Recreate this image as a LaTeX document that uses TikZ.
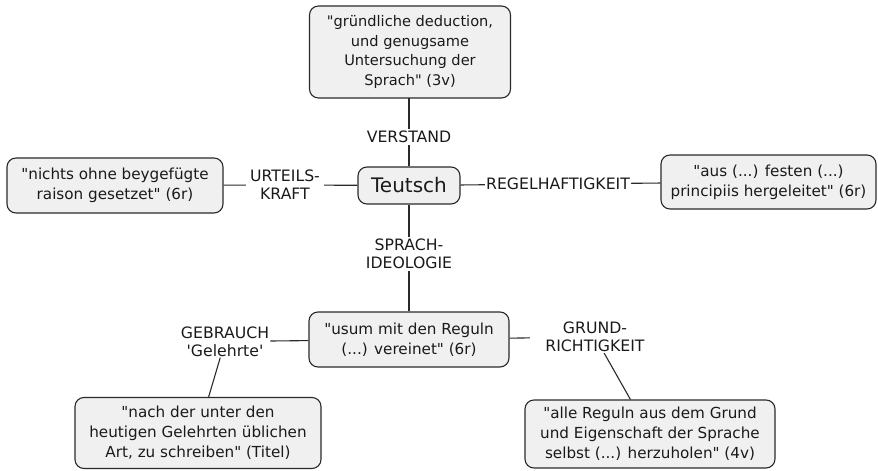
\documentclass[tikz,border=0pt]{standalone}
\usepackage{fontspec}
\newfontfamily\dvs{DejaVu Sans}
\definecolor{edgec}{HTML}{2A2A2A}
\definecolor{boxfill}{HTML}{F0F0F0}
\definecolor{txt}{HTML}{1A1A1A}
\begin{document}
\begin{tikzpicture}[x=1pt,y=-1pt,
  box/.style={draw=edgec, fill=boxfill, rounded corners=9pt, line width=1.1pt,
    align=center, text=txt, font=\dvs\fontsize{15.2}{20}\selectfont, inner sep=0pt},
  lab/.style={align=center, text=txt, font=\dvs\fontsize{15.7}{18}\selectfont, inner sep=2pt},
  conn/.style={draw=edgec, line width=1.1pt}]
\useasboundingbox (0,0) rectangle (878,471);

% boxes
\node[box, minimum width=201pt, minimum height=92pt, font=\dvs\fontsize{14.6}{19.5}\selectfont] (top) at (410,52)
  {"gründliche deduction,\\und genugsame\\Untersuchung der\\Sprach" (3v)};
\node[box, minimum width=102pt, minimum height=37pt, font=\dvs\fontsize{20}{24}\selectfont] (teutsch) at (409,185.5) {Teutsch};
\node[box, minimum width=216pt, minimum height=55pt] (left) at (115,185.5)
  {"nichts ohne beygefügte\\raison gesetzet" (6r)};
\node[box, minimum width=215pt, minimum height=54pt] (right) at (768.5,182)
  {"aus (...) festen (...)\\principiis hergeleitet" (6r)};
\node[box, minimum width=200pt, minimum height=55pt] (mid) at (409,339.5)
  {"usum mit den Reguln\\(...) vereinet" (6r)};
\node[box, minimum width=246pt, minimum height=71pt] (bl) at (198,433)
  {"nach der unter den\\heutigen Gelehrten üblichen\\Art, zu schreiben" (Titel)};
\node[box, minimum width=250pt, minimum height=68pt] (br) at (650,434)
  {"alle Reguln aus dem Grund\\und Eigenschaft der Sprache\\selbst (...) herzuholen" (4v)};

% labels
\node[lab] (verstand) at (409,137) {VERSTAND};
\node[lab, inner xsep=4pt] (urteil) at (285,185) {URTEILS-\\KRAFT};
\node[lab, inner sep=1pt] (regel) at (558,184) {REGELHAFTIGKEIT};
\node[lab] (sprach) at (409,254) {SPRACH-\\IDEOLOGIE};
\node[lab, inner sep=1pt] (gebr) at (225,341.5) {GEBRAUCH\\'Gelehrte'};
\node[lab, minimum width=130pt, inner sep=1pt] (grund) at (595,337) {GRUND-\\RICHTIGKEIT};

\coordinate (topfoot) at (409,98);

% connectors
\draw[conn] (teutsch) -- (verstand);
\draw[conn] (verstand) -- (topfoot);
\draw[conn] (left) -- (urteil);
\draw[conn] (urteil) -- (teutsch);
\draw[conn] (teutsch) -- (regel);
\draw[conn] (regel) -- (right);
\draw[conn] (teutsch) -- (sprach);
\draw[conn] (sprach) -- (mid);
\draw[conn] (mid) -- (gebr);
\draw[conn] (gebr) -- (bl);
\draw[conn] (mid) -- (grund);
\draw[conn] (grund) -- (br);
\end{tikzpicture}
\end{document}
